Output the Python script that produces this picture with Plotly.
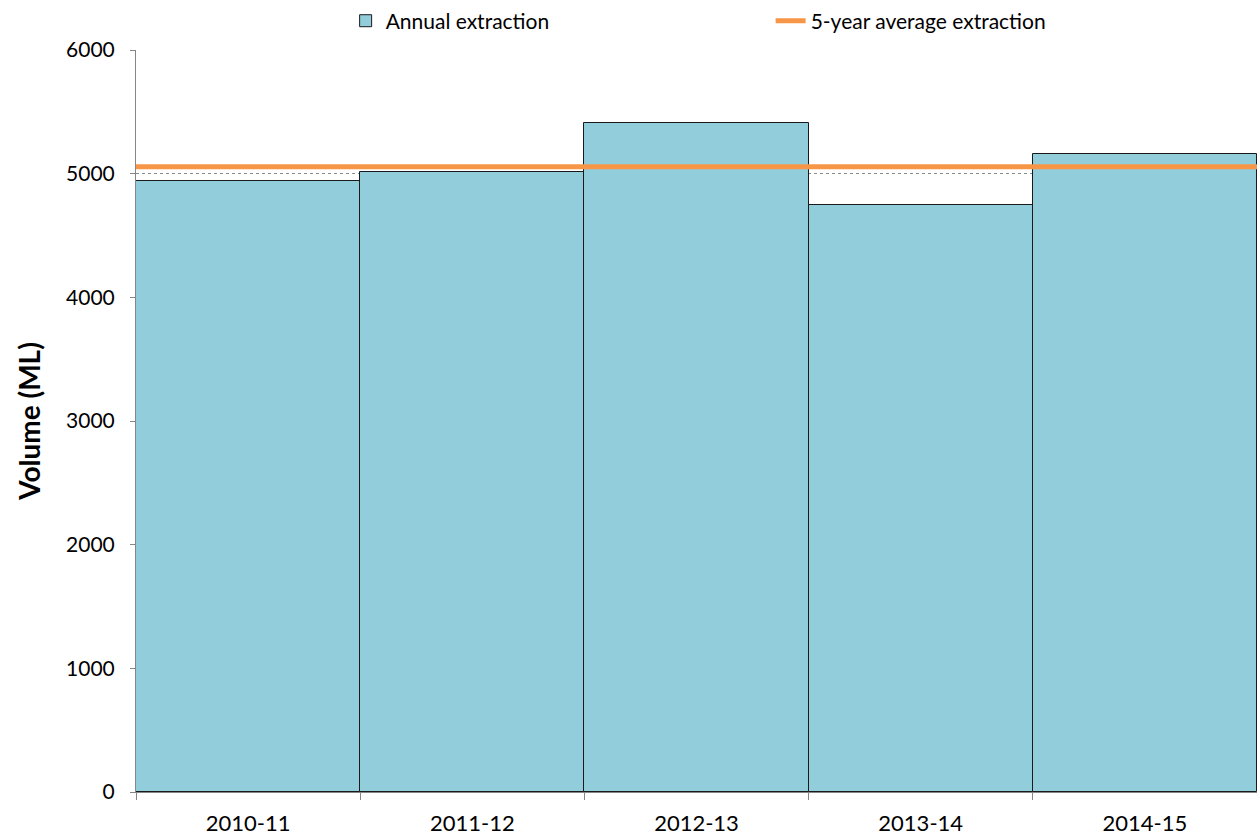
import plotly.graph_objects as go

years = ["2010-11", "2011-12", "2012-13", "2013-14", "2014-15"]
annual_extraction = [4942, 5012, 5412, 4745, 5161]
five_year_average = [5055, 5055, 5055, 5055, 5055]
y_ticks = [0, 1000, 2000, 3000, 4000, 5000, 6000]

FONT = "Lato"

fig = go.Figure()
fig.add_trace(go.Bar(
    x=years, y=annual_extraction, name="Annual extraction",
    marker=dict(color="#92CDDC", line=dict(color="#1a1a1a", width=1)),
    xaxis="x", yaxis="y",
))
fig.add_trace(go.Scatter(
    x=list(range(len(years))), y=five_year_average, name="5-year average extraction",
    mode="lines", line=dict(color="#F79646", width=5),
    xaxis="x2", yaxis="y",
))

fig.update_layout(
    width=1257, height=838,
    margin=dict(l=136, r=0, t=50, b=46, pad=0, autoexpand=False),
    plot_bgcolor="white", paper_bgcolor="white",
    bargap=0,
    font=dict(family=FONT, size=20, color="#000000"),
    showlegend=True,
    legend=dict(
        orientation="h", x=0.187, xanchor="left", y=1.039, yanchor="middle",
        font=dict(family=FONT, size=21, color="#000000"),
        entrywidth=380, entrywidthmode="pixels",
        traceorder="normal", itemwidth=30,
    ),
    xaxis=dict(
        type="category", range=[-0.5, 4.5], automargin=False,
        showgrid=False, showline=True, linecolor="#868686", linewidth=1,
        ticks="outside", tickson="boundaries", ticklen=7, tickcolor="#868686",
        tickfont=dict(family=FONT, size=22), zeroline=False,
        ticklabelstandoff=12,
    ),
    xaxis2=dict(
        overlaying="x", range=[0, 4], visible=False, showgrid=False, zeroline=False,
    ),
    yaxis=dict(
        range=[0, 6000], tickvals=y_ticks, ticktext=[str(v) for v in y_ticks],
        automargin=False,
        showgrid=True, gridcolor="#8c8c8c", griddash="dot", gridwidth=1,
        showline=True, linecolor="#868686", linewidth=1,
        ticks="outside", ticklen=5, tickcolor="#868686",
        tickfont=dict(family=FONT, size=21), zeroline=False,
        ticklabelstandoff=11,
        title=dict(text="<b>Volume (ML)</b>", font=dict(family=FONT, size=28), standoff=17),
    ),
)

fig.write_html(
    "out.html",
    config={"displayModeBar": False},
    post_script="document.body.style.margin='0';",
)
